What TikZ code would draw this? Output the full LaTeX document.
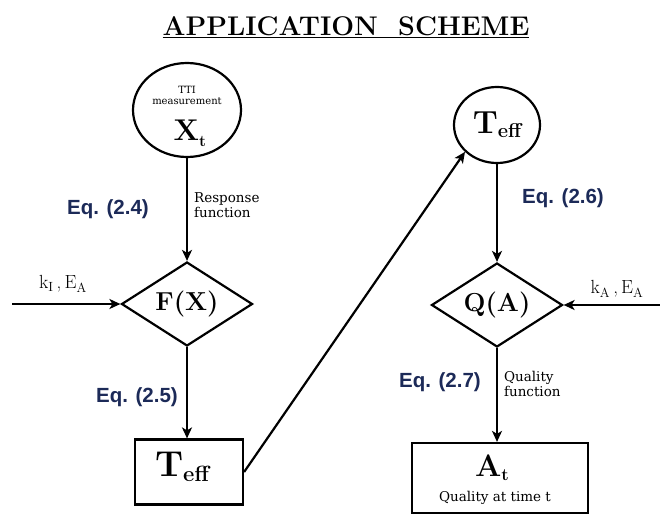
\documentclass[tikz,border=0pt]{standalone}
\usepackage{fontspec}
\newfontfamily\eqfont{Liberation Sans}
\newfontfamily\notefont{DejaVu Serif}
\usetikzlibrary{shapes.geometric,arrows.meta}
\definecolor{eqcol}{RGB}{28,42,88}
\begin{document}
\begin{tikzpicture}[x=1pt,y=-1pt,
  line width=2.2pt,
  arr/.style={-{Stealth[length=11pt,width=10pt,inset=3pt]}},
  roundnode/.style={draw,ellipse,inner sep=0pt,align=center},
  decide/.style={draw,diamond,aspect=1.6,inner sep=0pt,minimum width=131pt,minimum height=84pt,font=\fontsize{26}{28}\selectfont\bfseries},
  result/.style={draw,rectangle,inner sep=0pt,align=center},
  eqlabel/.style={font=\eqfont\fontsize{20.5}{22}\selectfont\bfseries,text=eqcol},
  note/.style={font=\notefont\fontsize{13.5}{15.5}\selectfont,align=left,inner sep=0pt},
  param/.style={font=\fontsize{19}{21}\selectfont,inner sep=0pt}]
\useasboundingbox (0,0) rectangle (660,516);

% title
\node (title) at (346,27) {\fontsize{27}{29}\selectfont\bfseries\underline{APPLICATION\ \ SCHEME}};

% left column
\node[roundnode,minimum width=108pt,minimum height=94pt] (xt) at (187,110) {};
\node[align=center,inner sep=0pt] (tti) at (187,95) {\notefont\fontsize{10}{10}\selectfont TTI\\[-1pt]\notefont\fontsize{10}{10}\selectfont measurement};
\node (xlab) at (190,133) {\fontsize{30}{32}\selectfont\bfseries X\raisebox{-6pt}{\fontsize{16}{18}\selectfont t}};
\node[decide] (fx) at (187,304) {F(X)};
\node[result,minimum width=108pt,minimum height=65pt] (tb) at (189,472) {};
\node (tblab) at (182,467) {\fontsize{36}{38}\selectfont\bfseries T\raisebox{-5pt}{\fontsize{22}{24}\selectfont eff}};

% right column
\node[roundnode,minimum width=86pt,minimum height=76pt] (te) at (497,125) {\fontsize{32}{34}\selectfont\bfseries T\raisebox{-4pt}{\fontsize{20}{22}\selectfont eff}};
\node[decide] (qa) at (497,305) {Q(A)};
\node[result,minimum width=176pt,minimum height=70pt] (at) at (500,478) {};
\node (alab) at (492,468) {\fontsize{31}{33}\selectfont\bfseries A\raisebox{-4pt}{\fontsize{17}{19}\selectfont t}};
\node[font=\notefont\fontsize{13.5}{15}\selectfont,inner sep=0pt] (qt) at (495,498) {Quality at time t};

% free ends of the input arrows
\coordinate (kin) at (12,304);
\coordinate (kain) at (660,305);

% connectors
\draw[arr] (xt.south -| fx.north) -- (fx);
\draw[arr] (fx) -- (fx |- tb.north);
\draw[arr] (tb.east) -- (te.220);
\draw[arr] (te) -- (qa);
\draw[arr] (qa) -- (qa |- at.north);
\draw[arr] (kin) -- (fx.west);
\draw[arr] (kain) -- (qa.east);

% labels
\node[eqlabel] (e24) at (108,209) {Eq. (2.4)};
\node[eqlabel] (e25) at (137,397) {Eq. (2.5)};
\node[eqlabel] (e26) at (563,198) {Eq. (2.6)};
\node[eqlabel] (e27) at (440,382) {Eq. (2.7)};
\node[note,anchor=west] (resp) at (193,205) {Response\\function};
\node[note,anchor=west] (qf) at (503,384) {Quality\\function};
\node[param] (kl) at (63,284) {k$_{\mathrm{I}}$\,,\,E$_{\mathrm{A}}$};
\node[param] (kr) at (617,289) {k$_{\mathrm{A}}$\,,\,E$_{\mathrm{A}}$};
\end{tikzpicture}
\end{document}
